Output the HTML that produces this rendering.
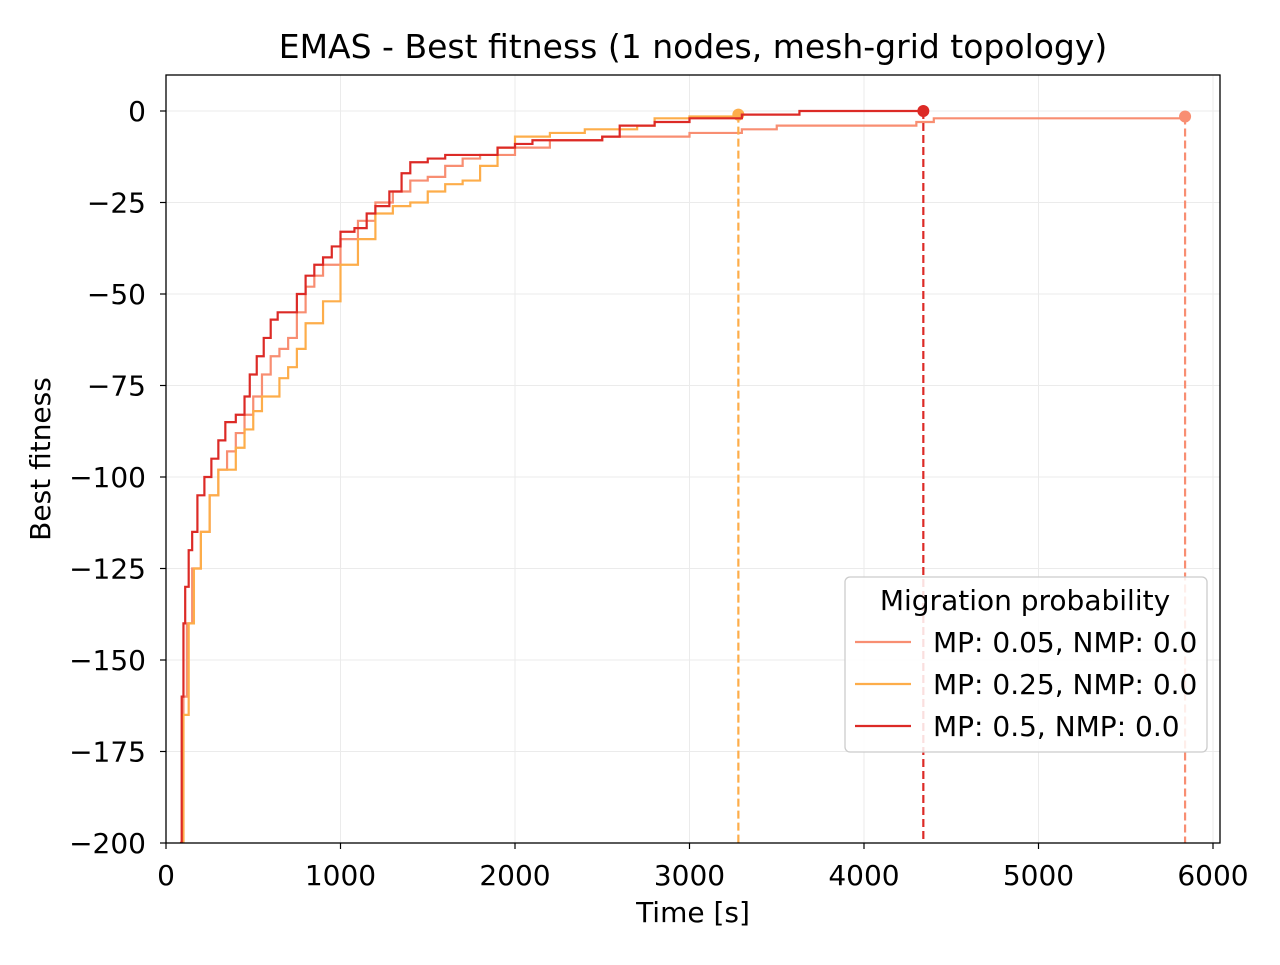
<!DOCTYPE html>
<html><head><meta charset="utf-8"><style>
body{margin:0;background:#fff;font-family:"Liberation Sans","DejaVu Sans",sans-serif}
svg text{font-family:"DejaVu Sans","Liberation Sans",sans-serif;fill:#000}
</style></head><body>
<svg id="c" width="1280" height="960" xmlns="http://www.w3.org/2000/svg"></svg>
<script>
const xTicks=[0,1000,2000,3000,4000,5000,6000];
const yTicks=[0,-25,-50,-75,-100,-125,-150,-175,-200];
const yTickLabels=["0","\u221225","\u221250","\u221275","\u2212100","\u2212125","\u2212150","\u2212175","\u2212200"];
const seriesNames=["MP: 0.05, NMP: 0.0","MP: 0.25, NMP: 0.0","MP: 0.5, NMP: 0.0"];
const t005=[80,100,120,150,200,250,300,350,400,450,500,550,600,650,700,750,800,850,900,1000,1100,1200,1300,1400,1500,1600,1700,1800,2000,2200,2500,3000,3300,3500,4300,4400,5840];
const v005=[-200,-160,-140,-125,-115,-105,-98,-93,-88,-83,-78,-72,-67,-65,-62,-55,-48,-45,-42,-35,-30,-25,-22,-19,-18,-15,-13,-12,-10,-8,-7,-6,-5,-4,-3,-2,-1.5];
const t025=[80,100,130,160,200,250,300,400,450,500,550,650,700,750,800,900,1000,1100,1200,1300,1400,1500,1600,1700,1800,1900,2000,2200,2400,2700,2800,3000,3280];
const v025=[-200,-165,-140,-125,-115,-105,-98,-92,-87,-82,-78,-73,-70,-65,-58,-52,-42,-35,-28,-26,-25,-22,-20,-19,-15,-10,-7,-6,-5,-4,-2,-1.5,-1];
const t05=[80,90,100,110,130,150,180,220,260,300,340,400,450,480,520,560,600,640,700,750,800,850,900,950,1000,1080,1150,1200,1280,1350,1400,1500,1600,1800,1900,2000,2100,2500,2600,2800,3000,3300,3630,4340];
const v05=[-200,-160,-140,-130,-120,-115,-105,-100,-95,-90,-85,-83,-78,-72,-67,-62,-57,-55,-55,-50,-45,-42,-40,-37,-33,-32,-28,-26,-22,-17,-14,-13,-12,-12,-10,-9,-8,-7,-4,-3,-2,-1,0,0];
const colors=["#f88e72","#fdad4a","#dc2a26"];
const L=166,R=1220,T=75,B=843;
const X=t=>L+t*(1213-166)/6000;
const Y=v=>111+(-v)*(843-111)/200;
const svg=document.getElementById('c');
const NS="http://www.w3.org/2000/svg";
function mk(tag,attrs,txt){const e=document.createElementNS(NS,tag);for(const k in attrs)e.setAttribute(k,attrs[k]);if(txt!=null)e.textContent=txt;svg.appendChild(e);return e;}
xTicks.forEach(t=>{const g=mk('line',{x1:X(t),x2:X(t),y1:T,y2:B,stroke:'#ebebeb','stroke-width':1});

});
yTicks.forEach(v=>{const g=mk('line',{x1:L,x2:R,y1:Y(v),y2:Y(v),stroke:'#ebebeb','stroke-width':1});

});
const allT=[t005,t025,t05],allV=[v005,v025,v05];
const clip=mk('clipPath',{id:'cp'});const cr=document.createElementNS(NS,'rect');cr.setAttribute('x',L);cr.setAttribute('y',T);cr.setAttribute('width',R-L);cr.setAttribute('height',B-T);clip.appendChild(cr);
allT.forEach((ts,i)=>{const vs=allV[i];let d='M'+X(ts[0])+','+Y(vs[0]);
for(let k=1;k<ts.length;k++){d+=' H'+X(ts[k])+' V'+Y(vs[k]);}
const p=mk('path',{d:d,fill:'none',stroke:colors[i],'stroke-width':2.2,'clip-path':'url(#cp)'});


const lt=ts[ts.length-1],lv=vs[vs.length-1];
const dl=mk('line',{x1:X(lt),x2:X(lt),y1:Y(lv),y2:B,stroke:colors[i],'stroke-width':2.2,'stroke-dasharray':'8,4'});


const c=mk('circle',{cx:X(lt),cy:Y(lv),r:6,fill:colors[i]});

});
const fr=mk('rect',{x:L,y:T,width:R-L,height:B-T,fill:'none',stroke:'#000','stroke-width':1.3});


xTicks.forEach(t=>{mk('line',{x1:X(t),x2:X(t),y1:B,y2:B+6,stroke:'#000','stroke-width':1.2});
const tx=mk('text',{x:X(t),y:885,'text-anchor':'middle','font-size':28},String(t));

});
yTicks.forEach((v,i)=>{mk('line',{x1:L-6,x2:L,y1:Y(v),y2:Y(v),stroke:'#000','stroke-width':1.2});
const tx=mk('text',{x:146,y:Y(v)+10,'text-anchor':'end','font-size':28},yTickLabels[i]);

});
let e=mk('text',{x:693,y:58,'text-anchor':'middle','font-size':33},'EMAS - Best fitness (1 nodes, mesh-grid topology)');

e=mk('text',{x:693,y:922,'text-anchor':'middle','font-size':28},'Time [s]');

e=mk('text',{x:50,y:459,'text-anchor':'middle','font-size':28,transform:'rotate(-90 50 459)'},'Best fitness');

e=mk('rect',{x:845,y:577,width:362,height:175,rx:5,fill:'#fff','fill-opacity':0.85,stroke:'#ccc','stroke-width':1.3});

e=mk('text',{x:1025,y:610,'text-anchor':'middle','font-size':28},'Migration probability');

seriesNames.forEach((n,i)=>{const y=642+i*42;
mk('line',{x1:855,x2:911,y1:y,y2:y,stroke:colors[i],'stroke-width':2.2});
const t=mk('text',{x:933,y:y+10,'font-size':28},n);

});
</script>
</body></html>
